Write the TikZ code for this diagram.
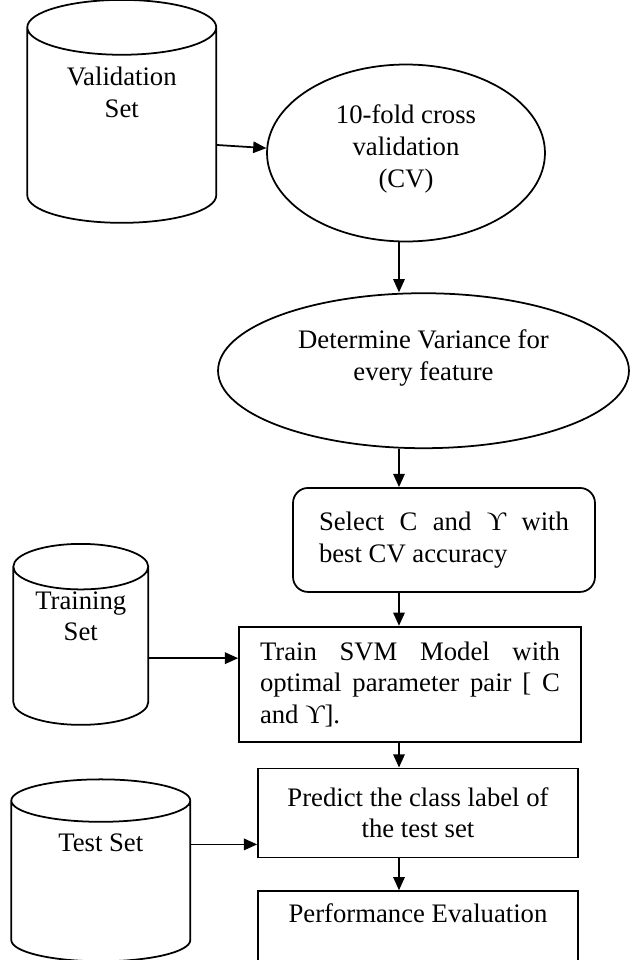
\documentclass[tikz,border=0pt]{standalone}
\usepackage{fontspec}
\setmainfont{Liberation Serif}
\usetikzlibrary{shapes.geometric,arrows.meta,positioning}

\begin{document}
\begin{tikzpicture}[%
	x=0.02cm, y=-0.02cm,        % one unit is one pixel of the sketch
	every node/.style={font=\fontsize{15.2}{18}\selectfont},
	>={Triangle[length=7.5pt,width=6.5pt]},
	line width=1pt,
	]
	% -------------------------------------------------
	% Box styles
	\tikzset{
		base/.style={draw, inner sep=0pt},
		store/.style={base, cylinder, shape border rotate=90, aspect=0.5, align=center},
		oval/.style={base, ellipse, align=center},
		proc/.style={base, rectangle, align=center},
		pick/.style={proc, rounded corners=0.3cm, align=justify},
		% connector line style
		norm/.style={->, draw},
	}
	\useasboundingbox (0,0) rectangle (637,960);
	\clip (0,0) rectangle (637,960);
	% x of the vertical connectors
	\coordinate (spine) at (399,0);

	\node[oval, minimum width=5.56cm, minimum height=3.54cm] (cv) at (406,153) {10-fold cross\\validation\\(CV)\\[-10pt]\mbox{}};
	\node[store, minimum width=3.78cm, minimum height=4.46cm, left=0.98cm of cv, yshift=0.55cm] (val) {Validation\\Set\\[20pt]\mbox{}};
	\node[oval, minimum width=8.22cm, minimum height=3.1cm, below=1cm of cv, xshift=0.35cm] (var) {Determine Variance for\\every feature\\\mbox{}};
	\node[pick, text width=5cm, minimum width=6.04cm, minimum height=2.08cm, below=0.76cm of var, xshift=0.41cm] (sel) {Select C and ϒ with\linebreak best CV accuracy};
	\node[proc, align=justify, text width=6cm, minimum width=6.84cm, minimum height=2.3cm, below=0.66cm of sel, xshift=-0.68cm] (train) {Train SVM Model with\linebreak optimal parameter pair [ C\linebreak and ϒ].};
	\node[store, minimum width=2.7cm, minimum height=3.62cm, left=1.78cm of train, yshift=0.76cm] (trn) {Training\\Set\\[16pt]\mbox{}};
	\node[proc, minimum width=6.4cm, minimum height=1.78cm, below=0.5cm of train, xshift=0.16cm] (pred) {Predict the class label of\\the test set};
	\node[store, minimum width=3.58cm, minimum height=3.64cm, left=1.32cm of pred, yshift=-1.37cm] (tst) {Test Set\\[26pt]\mbox{}};
	\node[proc, minimum width=6.4cm, minimum height=2cm, below=0.64cm of pred] (perf) {Performance Evaluation\\[14pt]\mbox{}};

	\draw[norm] ([yshift=-0.39cm]val.east) -- (cv.178);
	\draw[norm] (cv.south -| spine) -- (var.north -| spine);
	\draw[norm] (var.south -| spine) -- (sel.north -| spine);
	\draw[norm] (sel.south -| spine) -- (train.north -| spine);
	\draw[norm] ([yshift=-0.24cm]trn.east) -- ([yshift=-0.24cm]trn.east -| train.west);
	\draw[norm] (train.south -| spine) -- (pred.north -| spine);
	\draw[norm] ([yshift=0.74cm]tst.east) -- ([yshift=0.74cm]tst.east -| pred.west);
	\draw[norm] (pred.south -| spine) -- (perf.north -| spine);
\end{tikzpicture}
\end{document}
